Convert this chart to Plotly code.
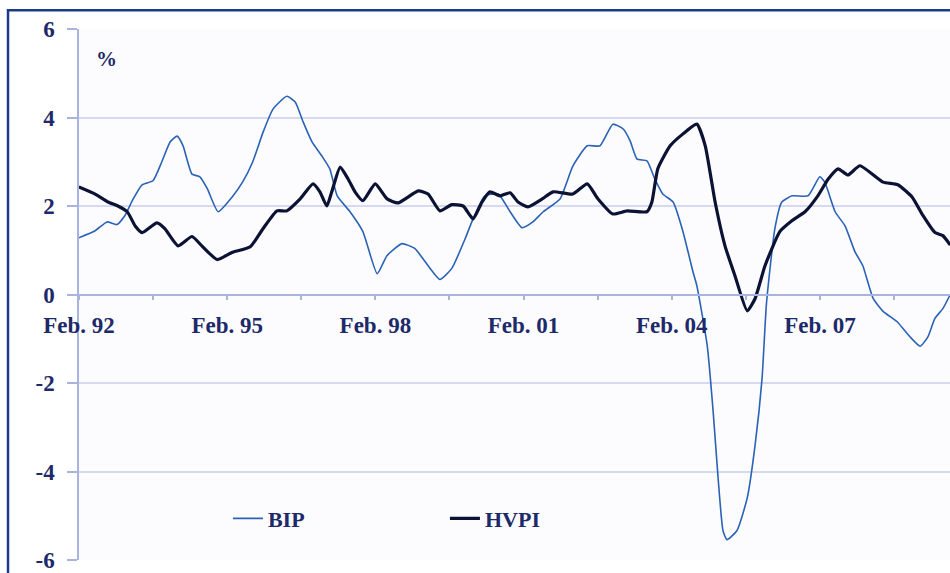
import plotly.graph_objects as go

# Time in decimal years (Feb. 1992 = 1992.083)
bip_t = [1992.08, 1992.41, 1992.65, 1992.85, 1993.01, 1993.18, 1993.36, 1993.58, 1993.76, 1993.93,
         1994.07, 1994.19, 1994.37, 1994.53, 1994.68, 1994.90, 1995.18, 1995.40, 1995.60, 1995.81,
         1996.01, 1996.29, 1996.46, 1996.62, 1996.80, 1997.00, 1997.16, 1997.31, 1997.57, 1997.83,
         1998.12, 1998.32, 1998.62, 1998.88, 1999.15, 1999.39, 1999.63, 1999.90, 2000.06, 2000.30,
         2000.57, 2000.81, 2001.05, 2001.27, 2001.48, 2001.82, 2002.08, 2002.37, 2002.63, 2002.89,
         2003.10, 2003.24, 2003.38, 2003.58, 2003.74, 2003.90, 2004.11, 2004.31, 2004.51, 2004.59,
         2004.80, 2004.92, 2005.02, 2005.12, 2005.20, 2005.40, 2005.61, 2005.77, 2005.91, 2006.00,
         2006.17, 2006.31, 2006.52, 2006.84, 2007.08, 2007.18, 2007.39, 2007.59, 2007.79, 2007.95,
         2008.16, 2008.36, 2008.64, 2008.90, 2009.11, 2009.27, 2009.41, 2009.57, 2009.72]
bip_v = [1.28, 1.44, 1.64, 1.58, 1.78, 2.16, 2.48, 2.57, 3.00, 3.45,
         3.58, 3.36, 2.72, 2.66, 2.39, 1.87, 2.20, 2.55, 3.00, 3.67,
         4.19, 4.48, 4.35, 3.90, 3.45, 3.13, 2.84, 2.23, 1.87, 1.42,
         0.47, 0.88, 1.15, 1.04, 0.65, 0.34, 0.59, 1.26, 1.71, 2.23,
         2.27, 1.87, 1.51, 1.64, 1.87, 2.16, 2.90, 3.36, 3.36, 3.85,
         3.74, 3.47, 3.06, 3.02, 2.61, 2.27, 2.09, 1.42, 0.52, 0.20,
         -1.15, -2.64, -4.14, -5.34, -5.54, -5.34, -4.60, -3.40, -1.90, -0.20,
         1.49, 2.09, 2.23, 2.23, 2.66, 2.54, 1.87, 1.55, 0.97, 0.65,
         -0.09, -0.38, -0.61, -0.95, -1.17, -0.95, -0.54, -0.32, 0.00]

hvpi_t = [1992.08, 1992.41, 1992.67, 1992.87, 1993.06, 1993.22, 1993.36, 1993.66, 1993.82, 1994.09,
          1994.37, 1994.57, 1994.88, 1995.18, 1995.55, 1995.81, 1996.09, 1996.29, 1996.56, 1996.82,
          1996.96, 1997.10, 1997.20, 1997.37, 1997.53, 1997.67, 1997.83, 1998.08, 1998.32, 1998.54,
          1998.95, 1999.15, 1999.39, 1999.63, 1999.86, 2000.06, 2000.24, 2000.40, 2000.61, 2000.81,
          2000.97, 2001.17, 2001.46, 2001.68, 2002.08, 2002.37, 2002.59, 2002.89, 2003.18, 2003.58,
          2003.68, 2003.80, 2004.05, 2004.31, 2004.59, 2004.76, 2004.96, 2005.16, 2005.36, 2005.61,
          2005.77, 2005.97, 2006.27, 2006.52, 2006.78, 2007.04, 2007.25, 2007.45, 2007.65, 2007.89,
          2008.36, 2008.66, 2008.95, 2009.17, 2009.41, 2009.57, 2009.72]
hvpi_v = [2.43, 2.27, 2.09, 2.00, 1.87, 1.55, 1.40, 1.62, 1.49, 1.10,
          1.31, 1.10, 0.79, 0.95, 1.08, 1.49, 1.89, 1.89, 2.16, 2.50,
          2.32, 2.00, 2.32, 2.88, 2.61, 2.32, 2.12, 2.50, 2.16, 2.07,
          2.34, 2.27, 1.89, 2.03, 2.00, 1.71, 2.09, 2.32, 2.23, 2.30,
          2.09, 1.98, 2.16, 2.32, 2.27, 2.50, 2.16, 1.82, 1.89, 1.87,
          2.09, 2.84, 3.36, 3.63, 3.85, 3.36, 2.09, 1.10, 0.43, -0.37,
          -0.09, 0.65, 1.42, 1.67, 1.87, 2.23, 2.61, 2.84, 2.70, 2.91,
          2.54, 2.48, 2.20, 1.78, 1.40, 1.33, 1.12]

tick_vals = [1992.083 + 1.5 * k for k in range(12)]
tick_text = ["Feb. 92", "", "Feb. 95", "", "Feb. 98", "", "Feb. 01", "", "Feb. 04", "", "Feb. 07", ""]
y_ticks = [-6, -4, -2, 0, 2, 4, 6]
y_text = ["-6", "-4", "-2", "0", "2", "4", "6"]

NAVY = "#1c2a6a"
FONT = "Liberation Serif"
AXC = "#a9b3df"
GRID = "#d6d9ef"

fig = go.Figure()
fig.add_trace(go.Scatter(x=bip_t, y=bip_v, name="BIP", mode="lines",
                         line=dict(color="#2a62b6", width=1.6, shape="spline", smoothing=0.5)))
fig.add_trace(go.Scatter(x=hvpi_t, y=hvpi_v, name="HVPI", mode="lines",
                         line=dict(color="#0b1233", width=3.2, shape="spline", smoothing=0.5)))

fig.update_layout(
    width=950, height=573,
    margin=dict(l=79, r=0, t=29, b=9),
    paper_bgcolor="white", plot_bgcolor="#fcfcfe",
    font=dict(family=FONT, color=NAVY, size=22),
    showlegend=True,
    legend=dict(orientation="h", x=0.171, y=0.078, xanchor="left", yanchor="middle",
                bgcolor="rgba(0,0,0,0)", entrywidth=172, entrywidthmode="pixels",
                font=dict(family=FONT, size=22, color=NAVY, weight="bold"), itemwidth=30),
    xaxis=dict(range=[1992.083, 2009.715], anchor="free", position=0.5,
               tickmode="array", tickvals=tick_vals, ticktext=tick_text,
               ticks="outside", ticklen=5, tickcolor=AXC, tickwidth=1.5,
               showgrid=False, showline=True, linecolor=AXC, linewidth=1.5,
               zeroline=False, ticklabelstandoff=5, ticklabeloverflow="allow",
               tickfont=dict(family=FONT, size=23, color=NAVY, weight="bold")),
    yaxis=dict(range=[-6, 6], tickmode="array", tickvals=y_ticks, ticktext=y_text,
               ticks="outside", ticklen=10, tickcolor=AXC, tickwidth=1.5,
               showgrid=True, gridcolor=GRID, gridwidth=1.5,
               showline=True, linecolor=AXC, linewidth=1.5, zeroline=False,
               ticklabelstandoff=8, ticklabeloverflow="allow",
               tickfont=dict(family=FONT, size=23, color=NAVY, weight="bold")),
    shapes=[dict(type="rect", xref="paper", yref="paper",
                 x0=-0.0815, x1=1.02, y0=-0.05, y1=1.0355,
                 line=dict(color="#1b3a8c", width=2.5), layer="above")],
    annotations=[dict(text="%", xref="paper", yref="paper", x=0.032, y=0.944,
                      xanchor="center", yanchor="middle",
                      showarrow=False, font=dict(family=FONT, size=21, color=NAVY, weight="bold"))],
)

fig.write_html("out.html", config={"displayModeBar": False},
               post_script="document.body.style.margin='0';document.body.style.overflow='hidden';")
